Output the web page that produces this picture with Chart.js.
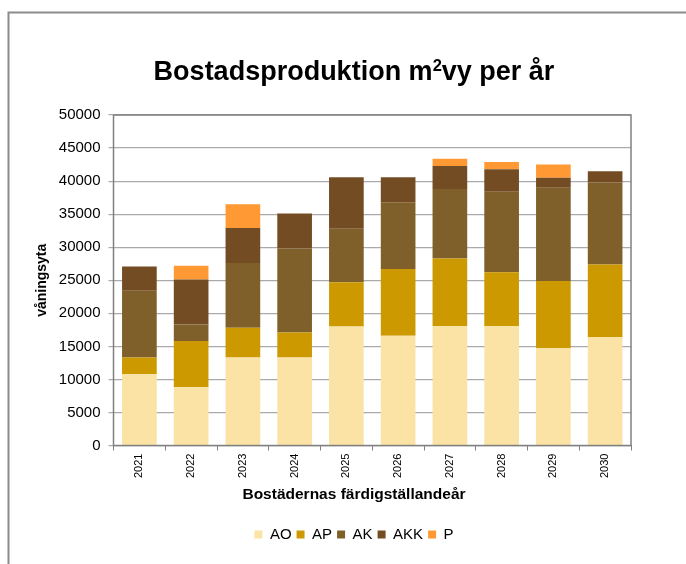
<!DOCTYPE html>
<html>
<head>
<meta charset="utf-8">
<script src="https://cdn.jsdelivr.net/npm/chart.js@4.4.0/dist/chart.umd.min.js"></script>
<style>
  body { margin: 0; background: #fff; }
  #wrap { width: 686px; height: 564px; position: relative; }
</style>
</head>
<body>
<div id="wrap"><canvas id="bostadChart"></canvas></div>
<script>
// years and values per category (m2 våningsyta)
const years = ["2021", "2022", "2023", "2024", "2025", "2026", "2027", "2028", "2029", "2030"];
const ao  = [10800, 8800, 13300, 13300, 18000, 16600, 18100, 18100, 14700, 16400];
const ap  = [2500, 7000, 4500, 3800, 6700, 10100, 10200, 8100, 10200, 11000];
const ak  = [10100, 2500, 9800, 12700, 8100, 10100, 10500, 12200, 14100, 12400];
const akk = [3700, 6800, 5300, 5300, 7800, 3800, 3500, 3400, 1500, 1700];
const p   = [0, 2100, 3600, 0, 0, 0, 1100, 1100, 2000, 0];

const font = "'Liberation Sans', Arial, sans-serif";
const textCenter = 354; // title, axis title and legend are centred here in the original

// frame round the plot, outer border, title with real superscript, x axis title
const framePlugin = {
  id: "frame",
  afterLayout(chart) {
    // move the legend so it lines up under the axis title
    const lg = chart.legend;
    const shift = textCenter - (lg.left + lg.right) / 2;
    lg.left += shift;
    lg.right += shift;
  },
  afterDraw(chart) {
    const c = chart.ctx;
    const a = chart.chartArea;
    c.save();
    c.strokeStyle = "#808080";
    c.lineWidth = 1.5;
    c.strokeRect(a.left, a.top, a.right - a.left, a.bottom - a.top);
    c.strokeStyle = "#8c8c8c";
    c.lineWidth = 2;
    c.beginPath();
    c.moveTo(8.5, 564);
    c.lineTo(8.5, 12.5);
    c.lineTo(686, 12.5);
    c.stroke();

    // title: "Bostadsproduktion m²vy per år"
    c.fillStyle = "#000";
    c.textBaseline = "alphabetic";
    c.textAlign = "left";
    const big = "bold 27px " + font;
    const small = "bold 16.5px " + font;
    const parts = [["Bostadsproduktion m", big, 0], ["2", small, -9], ["vy per år", big, 0]];
    let w = 0;
    parts.forEach(([t, f]) => { c.font = f; w += c.measureText(t).width; });
    let x = textCenter - w / 2;
    parts.forEach(([t, f, dy]) => {
      c.font = f;
      c.fillText(t, x, 80 + dy);
      x += c.measureText(t).width;
    });

    // x axis title
    c.font = "bold 15.5px " + font;
    c.textAlign = "center";
    c.textBaseline = "middle";
    c.fillText("Bostädernas färdigställandeår", textCenter, 495);
    c.restore();
  }
};

const ctx = document.getElementById("bostadChart").getContext("2d");

const chart = new Chart(ctx, {
  type: "bar",
  data: {
    labels: years,
    datasets: [
      { label: "AO", data: ao, backgroundColor: "#fae3a5" },
      { label: "AP", data: ap, backgroundColor: "#cc9900" },
      { label: "AK", data: ak, backgroundColor: "#80602a" },
      { label: "AKK", data: akk, backgroundColor: "#744c24" },
      { label: "P", data: p, backgroundColor: "#ff9933" },
    ],
  },
  options: {
    responsive: true,
    maintainAspectRatio: false,
    animation: false,
    datasets: { bar: { barPercentage: 0.67, categoryPercentage: 1 } },
    layout: { padding: { left: 27, right: 55, top: 115, bottom: 12 } },
    plugins: {
      title: { display: false },
      legend: {
        position: "bottom",
        labels: {
          color: "#000",
          font: { family: font, size: 15 },
          boxWidth: 8,
          boxHeight: 8,
          padding: 5,
        },
      },
      tooltip: { enabled: false },
    },
    scales: {
      x: {
        stacked: true,
        grid: { display: true, drawOnChartArea: false, color: "#808080", tickLength: 5 },
        border: { color: "#808080" },
        ticks: {
          color: "#000",
          font: { family: font, size: 11 },
          minRotation: 90,
          maxRotation: 90,
          padding: 3,
        },
        // room for the axis title drawn by the plugin
        afterFit: (scale) => { scale.height += 41; },
      },
      y: {
        stacked: true,
        min: 0,
        max: 50000,
        ticks: {
          stepSize: 5000,
          color: "#000",
          font: { family: font, size: 15 },
          padding: 8,
          callback: (v) => String(v),
        },
        grid: { color: "#aaaaaa", tickLength: 5, lineWidth: 1.2 },
        border: { color: "#808080" },
        title: {
          display: true,
          text: "våningsyta",
          color: "#000",
          font: { family: font, size: 14, weight: "bold" },
          padding: { top: 7, bottom: 0 },
        },
      },
    },
  },
  plugins: [framePlugin],
});
</script>
</body>
</html>
